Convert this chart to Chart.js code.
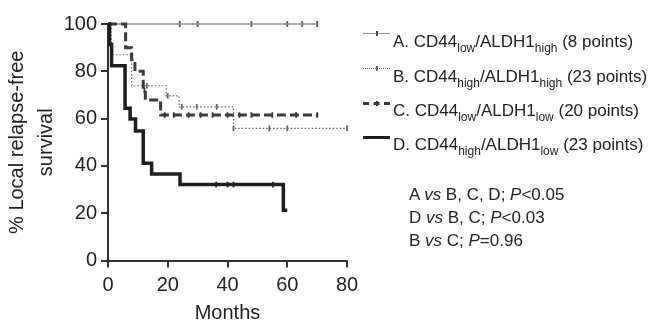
<!DOCTYPE html>
<html>
<head>
<meta charset="utf-8">
<script src="https://cdn.jsdelivr.net/npm/chart.js@4/dist/chart.umd.min.js"></script>
<style>
  body{margin:0;background:#fff;}
  #wrap{position:relative;width:648px;height:321px;font-family:"Liberation Sans",Arial,sans-serif;color:#222;}
  #c{position:absolute;left:0;top:0;}
  .leg{position:absolute;left:363px;font-size:17px;white-space:nowrap;}
  .leg sub{font-size:12px;vertical-align:-5px;line-height:0;}
  .sample{position:absolute;left:0;width:27px;}
  .txt{position:absolute;left:30px;}
  .tick{position:absolute;left:13px;width:1.5px;height:5px;background:#333;}
  .stat{position:absolute;left:409px;font-size:17px;white-space:nowrap;}
</style>
</head>
<body>
<div id="wrap">
  <canvas id="c" width="648" height="321"></canvas>
  <div id="legend"></div>
  <div id="stats"></div>
</div>
<script>
// DATA
const xTicks = [0, 20, 40, 60, 80];
const yTicks = [0, 20, 40, 60, 80, 100];

// A. CD44low/ALDH1high
const aTimes = [0, 70];
const aSurv = [100, 100];
const aCensor = [24, 30, 48, 60, 65, 70];

// B. CD44high/ALDH1high
const bTimes = [0, 1.1, 7.9, 19.5, 23.8, 42, 80];
const bSurv = [100, 87, 73.9, 69.6, 65, 55.9, 55.9];
const bCensor = [13, 20, 24.7, 29.7, 36.4, 42, 54, 60, 80];

// C. CD44low/ALDH1low
const cTimes = [0, 5.9, 7.9, 9, 11.8, 12.5, 17.6, 70.4];
const cSurv = [100, 90, 85, 80, 72, 67.9, 61.5, 61.5];
const cCensor = [12.2, 19, 22, 27, 31, 35, 40, 44, 48, 55, 63, 70];

// D. CD44high/ALDH1low
const dTimes = [0, 0.5, 1.2, 5.7, 7.4, 9.2, 11.8, 14.6, 24.1, 58.7, 60];
const dSurv = [100, 91.3, 82.3, 64.4, 59.8, 54.8, 41.1, 36.6, 32.1, 21.2, 21.2];
const dCensor = [36.2, 40, 42, 55.2];

const legendLetters = ["A", "B", "C", "D"];
const legendCD44 = ["low", "high", "low", "high"];
const legendALDH1 = ["high", "high", "low", "low"];
const legendCounts = [8, 23, 20, 23];

const statLines = [
  ["A", "B, C, D;", "<0.05"],
  ["D", "B, C;", "<0.03"],
  ["B", "C;", "=0.96"]
];

// STYLES
const styles = [
  {color:"#8c8c8c", width:1.5, dash:[],    legDash:"solid", legW:1.5},
  {color:"#666666", width:1.2, dash:[1.5,2], legDash:"dotted", legW:1.5},
  {color:"#3a3a3a", width:3,   dash:[9,4], legDash:"dashed", legW:3},
  {color:"#1e1e1e", width:3.5, dash:[],    legDash:"solid", legW:3.5}
];

function stepPts(times, surv){
  return times.map((t,i)=>({x:t, y:surv[i]}));
}
function survAt(times, surv, t){
  let v = surv[0];
  times.forEach((tt,i)=>{ if(tt<=t) v=surv[i]; });
  return v;
}
function censorPts(times, surv, cens){
  return cens.map(t=>({x:t, y:survAt(times, surv, t)}));
}

const curves = [
  [aTimes, aSurv, aCensor],
  [bTimes, bSurv, bCensor],
  [cTimes, cSurv, cCensor],
  [dTimes, dSurv, dCensor]
];

const datasets = [];
curves.forEach((c,i)=>{
  const s = styles[i];
  datasets.push({
    type:"line", data:stepPts(c[0], c[1]), stepped:"before",
    borderColor:s.color, borderWidth:s.width, borderDash:s.dash,
    pointRadius:0, fill:false, clip:false, order:4-i
  });
  datasets.push({
    type:"scatter", data:censorPts(c[0], c[1], c[2]),
    pointStyle:"line", rotation:90, radius:2.8,
    borderColor:i===0 ? "#444" : s.color, borderWidth:1.8, clip:false, order:4-i
  });
});

new Chart(document.getElementById("c"), {
  type:"scatter",
  data:{datasets},
  options:{
    responsive:false, animation:false, devicePixelRatio:1,
    layout:{padding:{left:0, top:24, right:301, bottom:0}},
    plugins:{legend:{display:false}, tooltip:{enabled:false}},
    scales:{
      x:{
        type:"linear", min:0, max:80,
        afterBuildTicks:s=>{ s.ticks = xTicks.map(v=>({value:v})); },
        afterFit:s=>{ s.height = 60.5; },
        ticks:{font:{size:20, family:"Liberation Sans"}, color:"#222", padding:6},
        grid:{drawOnChartArea:false, tickLength:7, color:"#333", lineWidth:2},
        border:{color:"#333", width:2},
        title:{display:true, text:"Months", font:{size:20, family:"Liberation Sans"}, color:"#222", padding:{top:0, bottom:-4}}
      },
      y:{
        min:0, max:100,
        afterBuildTicks:s=>{ s.ticks = yTicks.map(v=>({value:v})); },
        afterFit:s=>{ s.width = 108; },
        ticks:{font:{size:20, family:"Liberation Sans"}, color:"#222", padding:4},
        grid:{drawOnChartArea:false, tickLength:7, color:"#333", lineWidth:2},
        border:{color:"#333", width:2},
        title:{display:true, text:["% Local relapse-free","survival"], font:{size:20, family:"Liberation Sans", lineHeight:1.45}, color:"#222", padding:{top:3,bottom:0}}
      }
    }
  }
});

// LEGEND
const legTops = [33, 68, 102, 136];
const legHtml = legendLetters.map((l,i)=>{
  const s = styles[i];
  const tick = i<3 ? `<span class="tick" style="top:${-2.5 - (s.legW/2)}px;background:${i===0 ? "#444" : s.color}"></span>` : "";
  return `<div class="leg" style="top:${legTops[i]}px">
    <div class="sample" style="top:0;border-top:${s.legW}px ${s.legDash} ${s.color}">${tick}</div>
    <div class="txt" style="top:-1px">${l}. CD44<sub>${legendCD44[i]}</sub>/ALDH1<sub>${legendALDH1[i]}</sub> (${legendCounts[i]} points)</div>
  </div>`;
}).join("");
document.getElementById("legend").innerHTML = legHtml;

const statTops = [185, 208, 231];
document.getElementById("stats").innerHTML = statLines.map((r,i)=>
  `<div class="stat" style="top:${statTops[i]}px">${r[0]} <i>vs</i> ${r[1]} <i>P</i>${r[2]}</div>`
).join("");
</script>
</body>
</html>
